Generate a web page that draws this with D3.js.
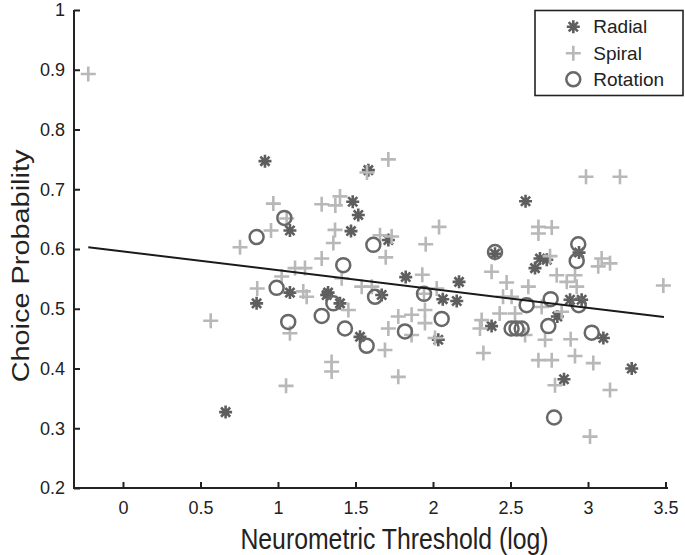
<!DOCTYPE html>
<html><head><meta charset="utf-8">
<script src="https://cdn.jsdelivr.net/npm/d3@7"></script>
<style>body{margin:0;background:#fff;} svg{display:block;font-family:"Liberation Sans",Arial,sans-serif;}</style>
</head><body>
<svg id="chart" width="685" height="555"></svg>
<script>
const xTicks = [0, 0.5, 1, 1.5, 2, 2.5, 3, 3.5];
const yTicks = [0.2, 0.3, 0.4, 0.5, 0.6, 0.7, 0.8, 0.9, 1];
const seriesNames = ["Radial", "Spiral", "Rotation"];

const radialX = [0.916,1.583,1.077,1.482,1.518,1.471,1.712,1.077,1.323,1.314,1.400,0.862,1.529,0.662,1.824,2.168,2.400,2.597,2.942,2.690,2.658,2.734,1.669,2.063,2.153,2.884,2.959,2.802,2.034,2.378,3.099,3.282,2.845];
const radialY = [0.747,0.732,0.631,0.679,0.657,0.630,0.615,0.527,0.527,0.523,0.509,0.509,0.453,0.327,0.553,0.545,0.592,0.680,0.594,0.584,0.568,0.582,0.523,0.516,0.513,0.515,0.515,0.487,0.448,0.471,0.451,0.400,0.382];

const spiralX = [-0.224,1.574,1.712,0.970,1.056,0.955,0.755,1.282,1.370,1.400,1.368,1.357,1.282,1.110,1.174,1.024,0.866,1.163,1.185,1.411,1.540,1.605,1.454,1.077,0.566,1.346,1.346,1.052,1.658,1.733,2.039,1.953,1.695,1.931,2.378,2.987,3.206,2.680,2.766,2.680,2.755,3.088,3.142,3.066,2.798,2.863,2.916,2.475,2.615,2.927,3.486,2.024,1.942,2.452,2.507,2.701,2.830,2.314,2.303,2.723,2.888,2.325,2.680,2.766,2.916,3.034,2.787,3.142,3.013,1.776,1.862,1.712,1.862,1.690,1.948,1.948,2.013,1.776,2.529,2.594,2.430];
const spiralY = [0.893,0.728,0.750,0.676,0.651,0.631,0.603,0.675,0.673,0.688,0.632,0.610,0.584,0.568,0.568,0.554,0.534,0.529,0.520,0.551,0.537,0.537,0.498,0.459,0.480,0.411,0.395,0.371,0.623,0.621,0.637,0.608,0.586,0.557,0.562,0.721,0.721,0.637,0.636,0.626,0.588,0.584,0.576,0.571,0.556,0.545,0.556,0.544,0.537,0.537,0.539,0.534,0.525,0.520,0.520,0.503,0.495,0.481,0.467,0.448,0.449,0.426,0.414,0.414,0.421,0.409,0.372,0.364,0.286,0.487,0.490,0.467,0.456,0.431,0.498,0.476,0.451,0.386,0.492,0.456,0.492];

const rotationX = [1.041,0.862,1.615,1.421,0.991,1.357,1.066,1.282,1.432,1.572,2.400,2.937,2.927,1.626,1.942,2.604,2.759,2.940,2.744,2.507,2.539,2.572,3.024,1.819,2.056,2.781];
const rotationY = [0.652,0.620,0.607,0.573,0.535,0.509,0.478,0.488,0.467,0.438,0.595,0.608,0.580,0.520,0.525,0.506,0.516,0.506,0.471,0.467,0.467,0.467,0.460,0.462,0.483,0.318];

const fitX = [-0.224, 3.49];
const fitY = [0.603, 0.486];

const svg = d3.select("#chart");
const x = d3.scaleLinear().domain([-0.316, 3.516]).range([74, 668]);
const y = d3.scaleLinear().domain([0.2, 1]).range([488, 10]);

const cRadial = "#5e5e5e", cSpiral = "#b8b8b8", cRot = "#686868", axisC = "#222";

// axes
const xAxis = d3.axisBottom(x).tickValues(xTicks).tickSizeInner(-6).tickSizeOuter(0).tickPadding(13).tickFormat(d3.format("~g"));
const yAxis = d3.axisLeft(y).tickValues(yTicks).tickSizeInner(-6).tickSizeOuter(0).tickPadding(9).tickFormat(d3.format("~g"));
const gx = svg.append("g").attr("transform", "translate(0,488)").call(xAxis);
const gy = svg.append("g").attr("transform", "translate(74,0)").call(yAxis);
[gx, gy].forEach(g => {
  g.select(".domain").attr("stroke", axisC).attr("stroke-width", 2);
  g.selectAll(".tick line").attr("stroke", axisC).attr("stroke-width", 2);
  g.selectAll(".tick text").attr("fill", "#222").attr("font-size", 18).attr("font-family", '"Liberation Sans",Arial,sans-serif');
});
gx.select(".domain").attr("d", "M74,0H668");
gy.select(".domain").attr("d", "M0,489V10");

// marker paths
const starPath = (s) => { const a = s*0.707; return `M${-s},0H${s}M0,${-s}V${s}M${-a},${-a}L${a},${a}M${-a},${a}L${a},${-a}`; };
const plusPath = (s) => `M${-s},0H${s}M0,${-s}V${s}`;

function radial(g, px, py) {
  g.append("path").attr("d", starPath(6.5)).attr("transform", `translate(${px},${py})`)
    .attr("stroke", cRadial).attr("stroke-width", 2.6).attr("fill", "none");
}
function spiral(g, px, py) {
  g.append("path").attr("d", plusPath(7.5)).attr("transform", `translate(${px},${py})`)
    .attr("stroke", cSpiral).attr("stroke-width", 2.6).attr("fill", "none");
}
function rot(g, px, py) {
  g.append("circle").attr("cx", px).attr("cy", py).attr("r", 7)
    .attr("stroke", cRot).attr("stroke-width", 2.5).attr("fill", "none");
}

const gR = svg.append("g");
radialX.forEach((v, i) => radial(gR, x(v), y(radialY[i])));
const gS = svg.append("g");
spiralX.forEach((v, i) => spiral(gS, x(v), y(spiralY[i])));
const gC = svg.append("g");
rotationX.forEach((v, i) => rot(gC, x(v), y(rotationY[i])));

// fit line
svg.append("path").datum(fitX.map((v, i) => [v, fitY[i]]))
  .attr("d", d3.line().x(d => x(d[0])).y(d => y(d[1])))
  .attr("stroke", "#1a1a1a").attr("stroke-width", 2).attr("fill", "none");

// titles
svg.append("text").attr("transform", "translate(394.5,549) scale(1,1.16)").attr("text-anchor", "middle")
  .attr("font-size", 24.8).attr("fill", "#222").text("Neurometric Threshold (log)");
svg.append("text").attr("transform", "translate(29,266) rotate(-90) scale(1.165,1)").attr("text-anchor", "middle")
  .attr("font-size", 24.8).attr("fill", "#222").text("Choice Probability");

// legend
const lg = svg.append("g");
lg.append("rect").attr("x", 535).attr("y", 10.5).attr("width", 148).attr("height", 85)
  .attr("fill", "#fff").attr("stroke", "#222").attr("stroke-width", 1.6);
const rowsY = [26.7, 53.3, 79.3];
const drawers = [radial, spiral, rot];
seriesNames.forEach((name, i) => {
  drawers[i](lg, 573.3, rowsY[i]);
  lg.append("text").attr("x", 593.3).attr("y", rowsY[i]).attr("dy", "0.35em")
    .attr("font-size", 19).attr("fill", "#222").text(name);
});
</script>
</body></html>
